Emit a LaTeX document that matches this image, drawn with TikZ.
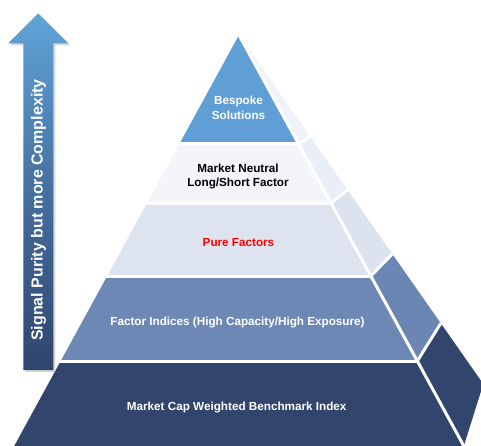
\documentclass[tikz,border=0pt]{standalone}
\usepackage{fontspec}
\setmainfont{Liberation Sans}
\definecolor{topblue}{RGB}{95,159,213}
\definecolor{topside}{RGB}{239,242,248}
\definecolor{mnfront}{RGB}{243,245,250}
\definecolor{mnside}{RGB}{234,238,246}
\definecolor{pffront}{RGB}{221,227,239}
\definecolor{pfside}{RGB}{220,226,238}
\definecolor{fifront}{RGB}{110,136,181}
\definecolor{fiside}{RGB}{108,134,180}
\definecolor{darkband}{RGB}{50,69,108}
\definecolor{arrowtop}{RGB}{96,164,216}
\definecolor{arrowbot}{RGB}{48,68,110}
\definecolor{purered}{RGB}{255,0,0}
\begin{document}
\begin{tikzpicture}[x=1pt,y=-1pt,
  gap/.style={white,line width=3pt},
  lbl/.style={font=\bfseries\fontsize{11.7}{13.5}\selectfont,align=center,inner sep=0pt}]
\useasboundingbox (0,0) rectangle (481,445);
\clip (0,0) rectangle (481,445);
% front corners (left L, right F) and back points P
\coordinate (A) at (239,35);
\coordinate (L1) at (179.5,143.8); \coordinate (F1) at (298.5,143.8);
\coordinate (L2) at (147.1,203);   \coordinate (F2) at (330.9,203);
\coordinate (L3) at (107.2,276);   \coordinate (F3) at (370.8,276);
\coordinate (L4) at (60.7,361);    \coordinate (F4) at (417.3,361);
\coordinate (L5) at (14.2,446);    \coordinate (F5) at (463.8,446);
\coordinate (P1) at (310.2,136.7);
\coordinate (P2) at (347.5,190);
\coordinate (P3) at (392.3,254);
\coordinate (P4) at (440.8,323.3);
\coordinate (P5) at (483.3,384);
% front faces
\fill[topblue] (A) -- (L1) -- (F1) -- cycle;
\fill[mnfront] (L1) -- (F1) -- (F2) -- (L2) -- cycle;
\fill[pffront] (L2) -- (F2) -- (F3) -- (L3) -- cycle;
\fill[fifront] (L3) -- (F3) -- (F4) -- (L4) -- cycle;
\fill[darkband] (L4) -- (F4) -- (F5) -- (L5) -- cycle;
% side faces
\fill[topside] (A) -- (P1) -- (F1) -- cycle;
\fill[mnside] (F1) -- (P1) -- (P2) -- (F2) -- cycle;
\fill[pfside] (F2) -- (P2) -- (P3) -- (F3) -- cycle;
\fill[fiside] (F3) -- (P3) -- (P4) -- (F4) -- cycle;
\fill[darkband] (F4) -- (P4) -- (P5) -- (F5) -- cycle;
% white gaps
\draw[gap] ([xshift=-3pt]L1) -- (F1);
\draw[gap] ([xshift=-3pt]L2) -- (F2);
\draw[gap] ([xshift=-3pt]L3) -- (F3);
\draw[gap] ([xshift=-3pt]L4) -- (F4);
\draw[gap] (F1) -- (P1);
\draw[gap] (F2) -- (P2);
\draw[gap] (F3) -- (P3);
\draw[gap] (F4) -- (P4);
\draw[gap] (A) -- (F5);
% arrow
\coordinate (T) at (38.3,13.3);
\fill[black!30,opacity=0.5] ([shift={(2,2)}]T) -- (70.3,45.3) -- (55.3,45.3) -- (55.3,372) -- (25.3,372) -- (25.3,45.3) -- (10.3,45.3) -- cycle;
\shade[top color=arrowtop,bottom color=arrowbot,middle color=arrowbot!55!arrowtop]
  (T) -- (68.3,43.3) -- (53.3,43.3) -- (53.3,370) -- (23.3,370) -- (23.3,43.3) -- (8.3,43.3) -- cycle;
\node[rotate=90,text=white,font=\bfseries\fontsize{16}{19}\selectfont,inner sep=0pt] (arrowtext) at (38.5,210) {Signal Purity but more Complexity};
% labels
\node[lbl,text=white,font=\bfseries\fontsize{11.7}{15}\selectfont] (bespoke) at (238.5,107.5) {Bespoke\\Solutions};
\node[lbl,text=black] (neutral) at (238,176.5) {Market Neutral\\Long/Short Factor};
\node[lbl,text=purered] (pure) at (238.5,242.5) {Pure Factors};
\node[lbl,text=white] (indices) at (237.5,322) {Factor Indices (High Capacity/High Exposure)};
\node[lbl,text=white] (capw) at (236.7,407.5) {Market Cap Weighted Benchmark Index};
\end{tikzpicture}
\end{document}
